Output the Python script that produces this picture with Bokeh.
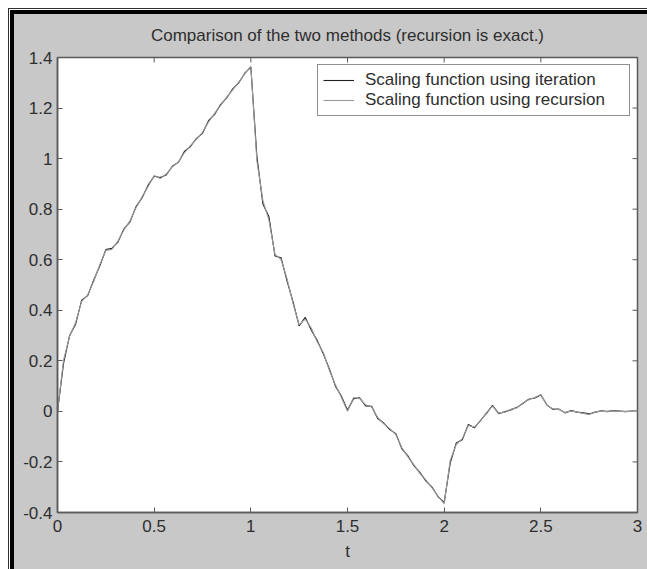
import math
from bokeh.plotting import figure
from bokeh.models import (FixedTicker, LinearAxis, Range1d, Legend, LegendItem,
                          InlineStyleSheet)
from bokeh.embed import file_html
from bokeh.resources import INLINE

# ---------------- data ----------------
t = [0, 0.03125, 0.0625, 0.09375, 0.125, 0.15625, 0.1875, 0.21875, 0.25,
     0.28125, 0.3125, 0.34375, 0.375, 0.40625, 0.4375, 0.46875, 0.5,
     0.53125, 0.5625, 0.59375, 0.625, 0.65625, 0.6875, 0.71875, 0.75,
     0.78125, 0.8125, 0.84375, 0.875, 0.90625, 0.9375, 0.96875, 1.0,
     1.03125, 1.0625, 1.09375, 1.125, 1.15625, 1.1875, 1.21875, 1.25,
     1.28125, 1.3125, 1.34375, 1.375, 1.40625, 1.4375, 1.46875, 1.5,
     1.53125, 1.5625, 1.59375, 1.625, 1.65625, 1.6875, 1.71875, 1.75,
     1.78125, 1.8125, 1.84375, 1.875, 1.90625, 1.9375, 1.96875, 2.0,
     2.03125, 2.0625, 2.09375, 2.125, 2.15625, 2.1875, 2.21875, 2.25,
     2.28125, 2.3125, 2.34375, 2.375, 2.40625, 2.4375, 2.46875, 2.5,
     2.53125, 2.5625, 2.59375, 2.625, 2.65625, 2.6875, 2.71875, 2.75,
     2.78125, 2.8125, 2.84375, 2.875, 2.90625, 2.9375, 2.96875, 3.0]

iteration = [0, 0.190, 0.300, 0.345, 0.440, 0.458, 0.520, 0.575,
             0.640, 0.645, 0.670, 0.722, 0.750, 0.810, 0.845, 0.895,
             0.930, 0.925, 0.935, 0.970, 0.985, 1.028, 1.048, 1.080,
             1.100, 1.150, 1.175, 1.214, 1.240, 1.276, 1.300, 1.338,
             1.362, 1.010, 0.820, 0.770, 0.615, 0.608, 0.515, 0.432,
             0.338, 0.372, 0.322, 0.280, 0.228, 0.168, 0.100, 0.060,
             0.005, 0.050, 0.054, 0.022, 0.020, -0.028, -0.046, -0.072,
             -0.088, -0.148, -0.176, -0.215, -0.242, -0.276, -0.300, -0.338,
             -0.360, -0.205, -0.125, -0.112, -0.052, -0.065, -0.036, -0.008,
             0.024, -0.008, -0.002, 0.006, 0.015, 0.031, 0.048, 0.053,
             0.065, 0.026, 0.008, 0.009, -0.006, 0.003, -0.003, -0.006,
             -0.010, -0.003, 0.002, -0.001, 0.003, 0.001, -0.001, 0.001, 0.0]

recursion = [0, 0.203, 0.297, 0.352, 0.435, 0.461, 0.515, 0.580,
             0.637, 0.641, 0.674, 0.718, 0.754, 0.806, 0.849, 0.890,
             0.933, 0.921, 0.939, 0.967, 0.987, 1.023, 1.051, 1.077,
             1.104, 1.145, 1.179, 1.210, 1.243, 1.272, 1.303, 1.335,
             1.366, 0.991, 0.834, 0.756, 0.621, 0.601, 0.524, 0.425,
             0.342, 0.365, 0.330, 0.274, 0.233, 0.162, 0.105, 0.055,
             0.000, 0.055, 0.051, 0.026, 0.017, -0.024, -0.049, -0.068,
             -0.092, -0.144, -0.180, -0.211, -0.246, -0.272, -0.303, -0.335,
             -0.366, -0.194, -0.131, -0.108, -0.056, -0.062, -0.039, -0.005,
             0.021, -0.006, -0.004, 0.008, 0.013, 0.033, 0.046, 0.055,
             0.067, 0.024, 0.010, 0.007, -0.004, 0.001, -0.002, -0.008,
             -0.012, -0.002, 0.001, 0.000, 0.002, 0.000, 0.000, 0.000, 0.0]

x_ticks = [0, 0.5, 1, 1.5, 2, 2.5, 3]
x_tick_labels = ["0", "0.5", "1", "1.5", "2", "2.5", "3"]
y_ticks = [-0.4, -0.2, 0, 0.2, 0.4, 0.6, 0.8, 1, 1.2, 1.4]
y_tick_labels = ["-0.4", "-0.2", "0", "0.2", "0.4", "0.6", "0.8", "1", "1.2", "1.4"]

title_text = "Comparison of the two methods (recursion is exact.)"
x_label = "t"
series_labels = ["Scaling function using iteration",
                 "Scaling function using recursion"]

# ---------------- styling ----------------
FONT = "Liberation Sans"
FS = "17px"
TXT = "#2e2e2e"
AX = "#5a5a5a"
BG = "#c8c8c8"

p = figure(width=647, height=569, output_backend="svg", toolbar_location=None,
           x_range=Range1d(x_ticks[0], x_ticks[-1]),
           y_range=Range1d(y_ticks[0], y_ticks[-1]),
           min_border_left=57, min_border_right=10,
           min_border_top=57, min_border_bottom=57,
           x_axis_location=None, y_axis_location=None)
# window-like frame (white margin, thin dark line, thick black line) on top/left
p.stylesheets = [InlineStyleSheet(css=(
    ":host { background-color: #c8c8c8; overflow: hidden; "
    "box-shadow: inset 8px 8px 0 0 #ffffff, inset 9px 9px 0 0 #303030, "
    "inset 10px 10px 0 0 #ffffff, inset 14px 14px 0 0 #000000; }"))]
p.border_fill_color = BG
p.border_fill_alpha = 0
p.background_fill_color = "white"
p.outline_line_color = AX
p.outline_line_width = 1.5
p.grid.visible = False

p.title.text = title_text
p.title.align = "center"
p.title.text_font = FONT
p.title.text_font_size = FS
p.title.text_font_style = "normal"
p.title.text_color = TXT
p.title.standoff = 26


def style_axis(ax, ticks, labels):
    ax.ticker = FixedTicker(ticks=ticks)
    ax.major_label_overrides = {tk: lb for tk, lb in zip(ticks, labels)}
    ax.major_tick_in = 5
    ax.major_tick_out = 0
    ax.minor_tick_in = 0
    ax.minor_tick_out = 0
    ax.major_tick_line_color = AX
    ax.axis_line_color = AX
    ax.axis_line_width = 1.5
    ax.major_label_text_font = FONT
    ax.major_label_text_font_size = FS
    ax.major_label_text_color = TXT
    ax.major_label_standoff = 5


xb = LinearAxis()
style_axis(xb, x_ticks, x_tick_labels)
xb.major_label_standoff = 7
xb.axis_label = x_label
xb.axis_label_text_font = FONT
xb.axis_label_text_font_size = FS
xb.axis_label_text_font_style = "normal"
xb.axis_label_text_color = TXT
xb.axis_label_standoff = 7
p.add_layout(xb, "below")

yl = LinearAxis()
style_axis(yl, y_ticks, y_tick_labels)
p.add_layout(yl, "left")

# inward ticks on the top and right edges of the axes box
p.ray(x=x_ticks, y=[y_ticks[-1]] * len(x_ticks), length=5, length_units="screen",
      angle=-math.pi / 2, line_color=AX, line_width=1)
p.ray(x=[x_ticks[-1]] * len(y_ticks), y=y_ticks, length=5, length_units="screen",
      angle=math.pi, line_color=AX, line_width=1)

r1 = p.line(t, iteration, line_color="#1e1e1e", line_width=1.1)
r2 = p.line(t, recursion, line_color="#9a9a9a", line_width=1.1)

legend = Legend(items=[LegendItem(label=series_labels[0], renderers=[r1]),
                       LegendItem(label=series_labels[1], renderers=[r2])],
                location="top_right")
legend.margin = 7
legend.padding = 5
legend.spacing = 0
legend.glyph_width = 31
legend.glyph_height = 18
legend.label_height = 18
legend.label_width = 259
legend.label_standoff = 11
legend.label_text_font = FONT
legend.label_text_font_size = FS
legend.label_text_color = TXT
legend.border_line_color = "#202020"
legend.border_line_width = 1
legend.background_fill_color = "white"
legend.background_fill_alpha = 1
p.add_layout(legend)

open("out.html", "w").write(file_html(p, INLINE))
